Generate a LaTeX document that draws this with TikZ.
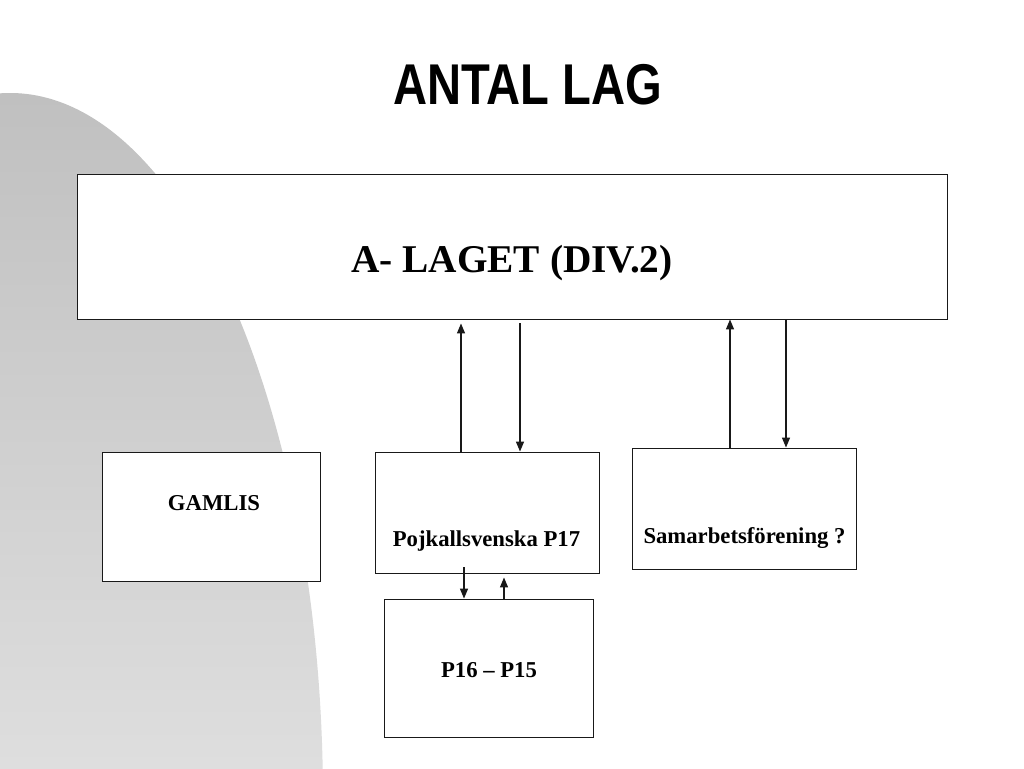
\documentclass[tikz,border=0pt]{standalone}
\usepackage{fontspec}
\setmainfont{Liberation Serif}
\newfontfamily\titlefont{Liberation Sans}
\usetikzlibrary{arrows.meta}
\definecolor{grayTop}{RGB}{192,192,192}
\definecolor{grayBot}{RGB}{222,222,222}
\definecolor{lineC}{RGB}{25,25,25}
\tikzset{
  box/.style={draw=lineC, line width=0.9pt, fill=white, rectangle, inner sep=0pt},
  arr/.style={draw=lineC, line width=1.3pt, -{Triangle[length=10pt,width=8pt]}},
  lbl/.style={anchor=base, inner sep=0pt, font=\bfseries\fontsize{22.7}{27}\selectfont},
}
\begin{document}
\begin{tikzpicture}[x=1pt,y=-1pt]
\useasboundingbox (0,0) rectangle (1024,768);
\fill[white] (0,0) rectangle (1024,768);
% background grey shape
\begin{scope}
  \clip (10,800) ellipse [x radius=313, y radius=707];
  \shade[top color=grayTop, bottom color=grayBot] (0,93) rectangle (1024,768);
\end{scope}
% title
\node[anchor=base, inner sep=0pt] (title) at (527.5,104)
  {\scalebox{0.82}[1]{\titlefont\bfseries\fontsize{57.5}{60}\selectfont ANTAL LAG}};
% boxes
\node[box, minimum width=870, minimum height=145] (alag) at (512,246.5) {};
\node[box, minimum width=218, minimum height=129] (gamlis) at (211,516.5) {};
\node[box, minimum width=224, minimum height=121] (p17) at (487,512.5) {};
\node[box, minimum width=224, minimum height=121] (samarb) at (744,508.5) {};
\node[box, minimum width=209, minimum height=138] (p16) at (488.5,668) {};
% labels
\node[anchor=base, inner sep=0pt, font=\bfseries\fontsize{39.3}{44}\selectfont] (alagT) at (512,272) {A- LAGET (DIV.2)};
\node[lbl] (gamlisT) at (214,510) {GAMLIS};
\node[lbl] (p17T) at (486.5,546) {Pojkallsvenska P17};
\node[lbl] (samarbT) at (744.5,543) {Samarbetsförening ?};
\node[lbl] (p16T) at (489,677) {P16 – P15};
% connector x positions
\coordinate (x1) at (461,0);
\coordinate (x2) at (520,0);
\coordinate (x3) at (730,0);
\coordinate (x4) at (786,0);
\coordinate (x5) at (464,0);
\coordinate (x6) at (504,0);
\coordinate (x5s) at (464,567);
% connectors
\draw[arr] (p17.north -| x1) -- ([yshift=-4pt]alag.south -| x1);
\draw[arr] ([yshift=-4pt]alag.south -| x2) -- (p17.north -| x2);
\draw[arr] (samarb.north -| x3) -- (alag.south -| x3);
\draw[arr] (alag.south -| x4) -- (samarb.north -| x4);
\draw[arr] (x5s) -- (p16.north -| x5);
\draw[arr] (p16.north -| x6) -- ([yshift=-4pt]p17.south -| x6);
\end{tikzpicture}
\end{document}
